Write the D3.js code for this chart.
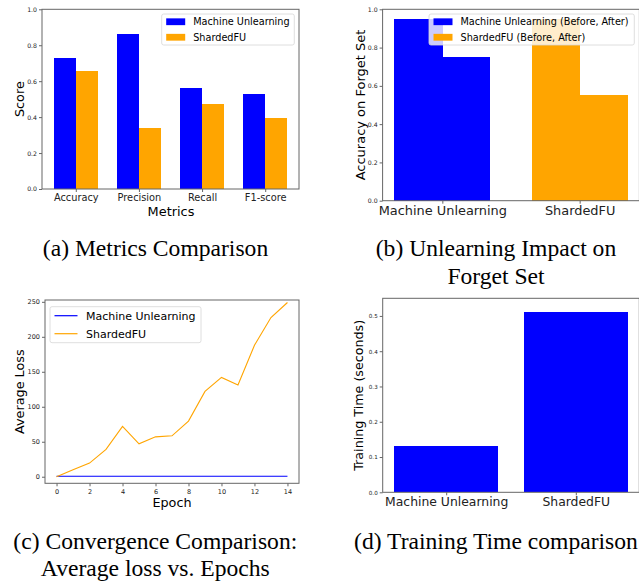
<!DOCTYPE html>
<html>
<head>
<meta charset="utf-8">
<script src="https://cdn.jsdelivr.net/npm/d3@7"></script>
<style>
    body { margin: 0; background: #fff; }
    svg { display: block; font-family: "DejaVu Sans", sans-serif; }
    .caption { font-family: "Liberation Serif", "Times New Roman", serif; font-size: 23.6px; fill: #000; }
    .axis path, .axis line { stroke: #666; }
    .axis text { fill: #222; font-family: "DejaVu Sans", sans-serif; }
    .frame { fill: none; stroke: #666; }
    .bar { shape-rendering: crispEdges; }
</style>
</head>
<body>
<svg id="fig" width="639" height="583"></svg>
<script>
// (a) metrics
const metricNames = ["Accuracy", "Precision", "Recall", "F1-score"];
const metricsMU = [0.73, 0.86, 0.563, 0.53];
const metricsSFU = [0.655, 0.34, 0.472, 0.395];
// (b) forget set accuracy
const methodNames = ["Machine Unlearning", "ShardedFU"];
const forgetBefore = [0.95, 0.95];
const forgetAfter = [0.75, 0.55];
// (c) loss per epoch
const epochs = [0, 1, 2, 3, 4, 5, 6, 7, 8, 9, 10, 11, 12, 13, 14];
const lossMU = [0.7, 0.7, 0.6, 0.6, 0.6, 0.6, 0.6, 0.6, 0.6, 0.6, 0.6, 0.6, 0.6, 0.6, 0.6];
const lossSFU = [0, 10, 19.5, 39, 72, 47, 57, 58.5, 79.5, 122, 142, 131, 188, 227.5, 249];
// (d) training time
const trainTime = [0.13, 0.51];
// ticks
const scoreTicks = [0, 0.2, 0.4, 0.6, 0.8, 1.0];
const lossTicks = [0, 50, 100, 150, 200, 250];
const epochTicks = [0, 2, 4, 6, 8, 10, 12, 14];
const timeTicks = [0, 0.1, 0.2, 0.3, 0.4, 0.5];

const COL_MU = "#0000ff";
const COL_SFU = "#ffa500";

const svg = d3.select("#fig");

function frame(g, x0, y0, x1, y1) {
    g.append("rect").attr("class", "frame")
        .attr("x", x0).attr("y", y0)
        .attr("width", x1 - x0).attr("height", y1 - y0);
}

function yAxis(g, scale, x0, ticks, fmt, fs) {
    let ax = g.append("g").attr("class", "axis")
        .attr("transform", "translate(" + x0 + ",0)")
        .call(d3.axisLeft(scale).tickValues(ticks).tickFormat(d3.format(fmt)).tickSizeOuter(0).tickSize(3).tickPadding(2));
    ax.select(".domain").remove();
    ax.selectAll("text").style("font-size", fs + "px");
}

function xAxis(g, scale, y0, ticks, labels, fs, pad) {
    let ax = g.append("g").attr("class", "axis")
        .attr("transform", "translate(0," + y0 + ")")
        .call(d3.axisBottom(scale).tickValues(ticks).tickFormat((d, i) => labels ? labels[i] : d).tickSizeOuter(0).tickSize(3).tickPadding(pad));
    ax.select(".domain").remove();
    ax.selectAll("text").style("font-size", fs + "px");
}

function legend(g, x, y, w, h, items, fs, kind) {
    let lg = g.append("g").attr("transform", "translate(" + x + "," + y + ")");
    lg.append("rect").attr("width", w).attr("height", h).attr("rx", 2)
        .attr("fill", "#fff").attr("fill-opacity", 0.8)
        .attr("stroke", "#d6d6d6").attr("stroke-width", 0.8);
    let step = h / items.length;
    items.forEach((it, i) => {
        let cy = step * (i + 0.5);
        if (kind === "patch") {
            lg.append("rect").attr("x", 4.5).attr("y", cy - 3.4)
                .attr("width", 19).attr("height", 6.8).attr("fill", it.color);
        } else {
            lg.append("line").attr("x1", 4.5).attr("x2", 27.5)
                .attr("y1", cy).attr("y2", cy)
                .attr("stroke", it.color).attr("stroke-width", 1.2);
        }
        lg.append("text").attr("x", kind === "patch" ? 31.5 : 36)
            .attr("y", cy).attr("dy", "0.35em")
            .style("font-size", fs + "px").text(it.label);
    });
}

function ylabel(g, x, y, text, fs) {
    g.append("text").attr("transform", "translate(" + x + "," + y + ") rotate(-90)")
        .attr("text-anchor", "middle").attr("dy", "0.35em")
        .style("font-size", fs + "px").text(text);
}

// ---------- (a) Metrics Comparison ----------
{
    const g = svg.append("g");
    const L = 42, R = 299, T = 9.3, B = 189;
    const x = d3.scaleLinear().domain([-0.535, 3.535]).range([L, R]);
    const y = d3.scaleLinear().domain([0, 1]).range([B, T]);
    const w = 0.35;
    const idx = metricNames.map((d, i) => i);
    g.selectAll(".barMU").data(metricsMU).enter().append("rect").attr("class", "bar")
        .attr("x", (d, i) => x(i - w)).attr("width", x(w) - x(0))
        .attr("y", d => y(d)).attr("height", d => y(0) - y(d)).attr("fill", COL_MU);
    g.selectAll(".barSFU").data(metricsSFU).enter().append("rect").attr("class", "bar")
        .attr("x", (d, i) => x(i)).attr("width", x(w) - x(0))
        .attr("y", d => y(d)).attr("height", d => y(0) - y(d)).attr("fill", COL_SFU);
    frame(g, L, T, R, B);
    yAxis(g, y, L, scoreTicks, ".1f", 6.2);
    xAxis(g, x, B, idx, metricNames, 9.8, 2);
    g.append("text").attr("x", 171).attr("y", 215.5).attr("text-anchor", "middle")
        .style("font-size", "12.9px").text("Metrics");
    ylabel(g, 19.5, (T + B) / 2, "Score", 12.8);
    legend(g, 161.7, 14, 132.6, 31, [
        { label: "Machine Unlearning", color: COL_MU },
        { label: "ShardedFU", color: COL_SFU }
    ], 9.7, "patch");
    g.append("text").attr("class", "caption").attr("x", 155.5).attr("y", 256)
        .attr("text-anchor", "middle").text("(a) Metrics Comparison");
}

// ---------- (b) Unlearning Impact on Forget Set ----------
{
    const g = svg.append("g");
    const L = 382.6, R = 639.4, T = 9.3, B = 200.7;
    const x = d3.scaleLinear().domain([-0.435, 1.435]).range([L, R]);
    const y = d3.scaleLinear().domain([0, 1]).range([B, T]);
    const w = 0.35;
    const idx = methodNames.map((d, i) => i);
    const cols = [COL_MU, COL_SFU];
    g.selectAll(".before").data(forgetBefore).enter().append("rect").attr("class", "bar")
        .attr("x", (d, i) => x(i - w)).attr("width", x(w) - x(0) + 0.5)
        .attr("y", d => y(d)).attr("height", d => y(0) - y(d)).attr("fill", (d, i) => cols[i]);
    g.selectAll(".after").data(forgetAfter).enter().append("rect").attr("class", "bar")
        .attr("x", (d, i) => x(i)).attr("width", x(w) - x(0))
        .attr("y", d => y(d)).attr("height", d => y(0) - y(d)).attr("fill", (d, i) => cols[i]);
    frame(g, L, T, R, B);
    yAxis(g, y, L, scoreTicks, ".1f", 6.2);
    xAxis(g, x, B, idx, methodNames, 12.9, 2);
    ylabel(g, 360, (T + B) / 2, "Accuracy on Forget Set", 13);
    legend(g, 429, 14, 205.3, 31, [
        { label: "Machine Unlearning (Before, After)", color: COL_MU },
        { label: "ShardedFU (Before, After)", color: COL_SFU }
    ], 9.7, "patch");
    const cap = g.append("text").attr("class", "caption").attr("text-anchor", "middle");
    cap.append("tspan").attr("x", 496).attr("y", 256).text("(b) Unlearning Impact on");
    cap.append("tspan").attr("x", 496).attr("y", 284).text("Forget Set");
}

// ---------- (c) Convergence Comparison ----------
{
    const g = svg.append("g");
    const L = 45, R = 299, T = 300, B = 483.3;
    const x = d3.scaleLinear().domain([-0.7, 14.7]).range([L, R]);
    const y = d3.scaleLinear().domain([-9.4, 252.6]).range([B, T]);
    const line = d3.line().x((d, i) => x(epochs[i])).y(d => y(d));
    g.append("path").datum(lossMU).attr("d", line)
        .attr("fill", "none").attr("stroke", COL_MU).attr("stroke-width", 1.1);
    g.append("path").datum(lossSFU).attr("d", line)
        .attr("fill", "none").attr("stroke", COL_SFU).attr("stroke-width", 1.1);
    frame(g, L, T, R, B);
    yAxis(g, y, L, lossTicks, "d", 6.5);
    xAxis(g, x, B, epochTicks, null, 6.5, 3);
    g.append("text").attr("x", 172).attr("y", 507).attr("text-anchor", "middle")
        .style("font-size", "12.8px").text("Epoch");
    ylabel(g, 19.5, (T + B) / 2, "Average Loss", 12.8);
    legend(g, 50, 306.7, 151, 36, [
        { label: "Machine Unlearning", color: COL_MU },
        { label: "ShardedFU", color: COL_SFU }
    ], 11, "line");
    const cap = g.append("text").attr("class", "caption").attr("text-anchor", "middle");
    cap.append("tspan").attr("x", 155.3).attr("y", 549).text("(c) Convergence Comparison:");
    cap.append("tspan").attr("x", 155.3).attr("y", 576).text("Average loss vs. Epochs");
}

// ---------- (d) Training Time comparison ----------
{
    const g = svg.append("g");
    const L = 382.7, R = 639.3, T = 298.3, B = 492.3;
    const x = d3.scaleLinear().domain([-0.49, 1.49]).range([L, R]);
    const y = d3.scaleLinear().domain([0, 0.55]).range([B, T]);
    const w = 0.8;
    const idx = methodNames.map((d, i) => i);
    g.selectAll(".tt").data(trainTime).enter().append("rect").attr("class", "bar")
        .attr("x", (d, i) => x(i - w / 2)).attr("width", x(w) - x(0))
        .attr("y", d => y(d)).attr("height", d => y(0) - y(d)).attr("fill", COL_MU);
    frame(g, L, T, R, B);
    yAxis(g, y, L, timeTicks, ".1f", 5.6);
    xAxis(g, x, B, idx, methodNames, 12.4, 2);
    ylabel(g, 358.5, (T + B) / 2, "Training Time (seconds)", 12.7);
    g.append("text").attr("class", "caption").attr("x", 496).attr("y", 549)
        .attr("text-anchor", "middle").text("(d) Training Time comparison");
}
</script>
</body>
</html>
